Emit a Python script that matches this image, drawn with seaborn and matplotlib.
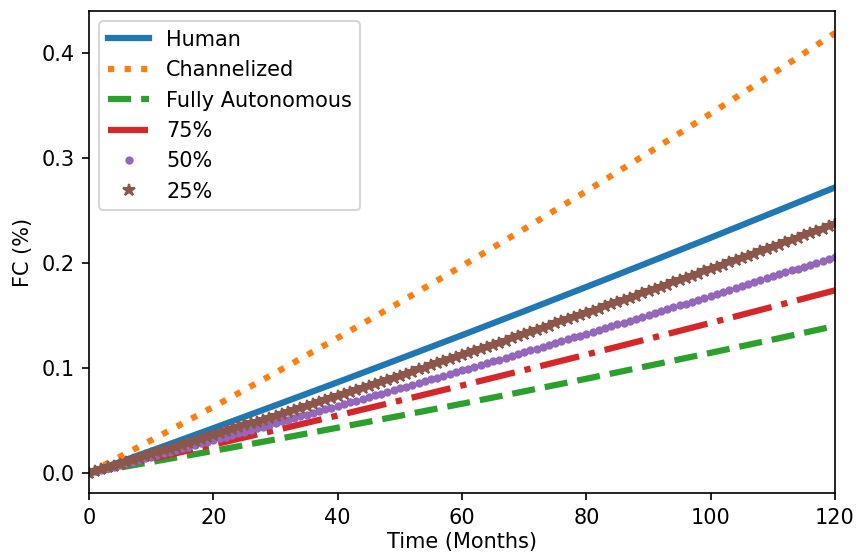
import matplotlib
matplotlib.use("Agg")
import matplotlib.pyplot as plt
import seaborn as sns
import numpy as np

# Sampling grid for the solid / dashed curves (every 10 months)
months_coarse = [0, 10, 20, 30, 40, 50, 60, 70, 80, 90, 100, 110, 120]

human = [0.0, 0.0212, 0.0427, 0.0645, 0.0865, 0.1088, 0.1313, 0.1541,
         0.1772, 0.2005, 0.2241, 0.2480, 0.2720]
channelized = [0.0, 0.0312, 0.0630, 0.0955, 0.1287, 0.1626, 0.1972, 0.2324,
               0.2684, 0.3050, 0.3423, 0.3803, 0.4190]
fully_autonomous = [0.0, 0.0105, 0.0211, 0.0320, 0.0432, 0.0545, 0.0660, 0.0778,
                    0.0898, 0.1021, 0.1145, 0.1271, 0.1400]
level_75 = [0.0, 0.0134, 0.0270, 0.0408, 0.0548, 0.0690, 0.0834, 0.0980,
            0.1128, 0.1278, 0.1430, 0.1584, 0.1740]

# Monthly samples for the marker series
months_fine = list(range(0, 121))

level_50 = [
    0.0000, 0.0015, 0.0031, 0.0046, 0.0062, 0.0077, 0.0093, 0.0108, 0.0124, 0.0140,
    0.0155, 0.0171, 0.0187, 0.0203, 0.0218, 0.0234, 0.0250, 0.0266, 0.0282, 0.0298,
    0.0314, 0.0330, 0.0346, 0.0362, 0.0378, 0.0394, 0.0410, 0.0426, 0.0443, 0.0459,
    0.0475, 0.0491, 0.0508, 0.0524, 0.0540, 0.0557, 0.0573, 0.0590, 0.0606, 0.0623,
    0.0639, 0.0656, 0.0673, 0.0689, 0.0706, 0.0723, 0.0739, 0.0756, 0.0773, 0.0790,
    0.0807, 0.0823, 0.0840, 0.0857, 0.0874, 0.0891, 0.0908, 0.0925, 0.0943, 0.0960,
    0.0977, 0.0994, 0.1011, 0.1029, 0.1046, 0.1063, 0.1080, 0.1098, 0.1115, 0.1133,
    0.1150, 0.1168, 0.1185, 0.1203, 0.1220, 0.1238, 0.1255, 0.1273, 0.1291, 0.1308,
    0.1326, 0.1344, 0.1362, 0.1380, 0.1397, 0.1415, 0.1433, 0.1451, 0.1469, 0.1487,
    0.1505, 0.1523, 0.1542, 0.1560, 0.1578, 0.1596, 0.1614, 0.1632, 0.1651, 0.1669,
    0.1687, 0.1706, 0.1724, 0.1743, 0.1761, 0.1780, 0.1798, 0.1817, 0.1835, 0.1854,
    0.1872, 0.1891, 0.1910, 0.1929, 0.1947, 0.1966, 0.1985, 0.2004, 0.2023, 0.2042,
    0.2060,
]

level_25 = [
    0.0000, 0.0018, 0.0035, 0.0053, 0.0071, 0.0089, 0.0107, 0.0125, 0.0143, 0.0161,
    0.0179, 0.0197, 0.0215, 0.0233, 0.0251, 0.0269, 0.0287, 0.0306, 0.0324, 0.0342,
    0.0361, 0.0379, 0.0398, 0.0416, 0.0434, 0.0453, 0.0472, 0.0490, 0.0509, 0.0527,
    0.0546, 0.0565, 0.0584, 0.0603, 0.0621, 0.0640, 0.0659, 0.0678, 0.0697, 0.0716,
    0.0735, 0.0754, 0.0773, 0.0793, 0.0812, 0.0831, 0.0850, 0.0869, 0.0889, 0.0908,
    0.0928, 0.0947, 0.0966, 0.0986, 0.1005, 0.1025, 0.1045, 0.1064, 0.1084, 0.1104,
    0.1123, 0.1143, 0.1163, 0.1183, 0.1203, 0.1222, 0.1242, 0.1262, 0.1282, 0.1302,
    0.1323, 0.1343, 0.1363, 0.1383, 0.1403, 0.1424, 0.1444, 0.1464, 0.1485, 0.1505,
    0.1525, 0.1546, 0.1566, 0.1587, 0.1607, 0.1628, 0.1649, 0.1669, 0.1690, 0.1711,
    0.1731, 0.1752, 0.1773, 0.1794, 0.1815, 0.1836, 0.1857, 0.1878, 0.1899, 0.1920,
    0.1941, 0.1962, 0.1983, 0.2005, 0.2026, 0.2047, 0.2068, 0.2090, 0.2111, 0.2133,
    0.2154, 0.2176, 0.2197, 0.2219, 0.2240, 0.2262, 0.2284, 0.2305, 0.2327, 0.2349,
    0.2370,
]

plt.rcParams["font.family"] = ["DejaVu Sans"]
plt.rcParams["font.size"] = 10

fig = plt.figure(figsize=(856 / 150, 556 / 150), dpi=150)
ax = fig.add_axes([0.104, 0.1133, 0.8715, 0.867])

palette = sns.color_palette("tab10")

sns.lineplot(x=months_coarse, y=human, ax=ax, label="Human",
             color=palette[0], linewidth=3, linestyle="-")
sns.lineplot(x=months_coarse, y=channelized, ax=ax, label="Channelized",
             color=palette[1], linewidth=3, linestyle=":")
sns.lineplot(x=months_coarse, y=fully_autonomous, ax=ax, label="Fully Autonomous",
             color=palette[2], linewidth=3, linestyle="--")
sns.lineplot(x=months_coarse, y=level_75, ax=ax, label="75%",
             color=palette[3], linewidth=3, linestyle="-.")
sns.lineplot(x=months_fine, y=level_50, ax=ax, label="50%",
             color=palette[4], linestyle="", marker=".", markersize=6,
             markeredgewidth=1, markeredgecolor=palette[4],
             markerfacecolor=palette[4])
sns.lineplot(x=months_fine, y=level_25, ax=ax, label="25%",
             color=palette[5], linestyle="", marker="*", markersize=6,
             markeredgewidth=1, markeredgecolor=palette[5],
             markerfacecolor=palette[5])

ax.set_xlim(0, 120)
ax.set_ylim(-0.019, 0.440)
ax.set_xticks([0, 20, 40, 60, 80, 100, 120])
ax.set_yticks([0.0, 0.1, 0.2, 0.3, 0.4])
ax.set_xlabel("Time (Months)", labelpad=2)
ax.set_ylabel("FC (%)")
ax.legend(loc="upper left")

fig.savefig("out.png", dpi=150)
